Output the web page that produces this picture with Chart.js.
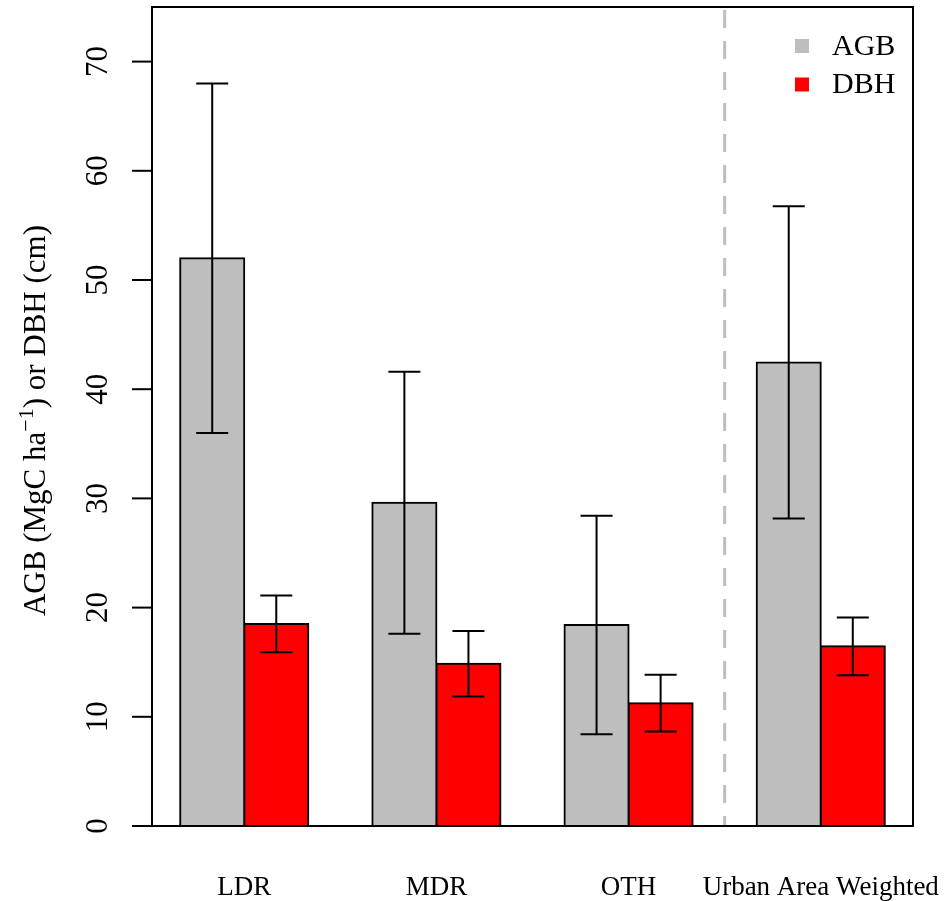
<!DOCTYPE html>
<html>
<head>
<meta charset="utf-8">
<script src="https://cdn.jsdelivr.net/npm/chart.js@4"></script>
<style>
  html, body { margin: 0; padding: 0; background: #fff; }
  #wrap { width: 951px; height: 901px; }
</style>
</head>
<body>
<div id="wrap"><canvas id="chart" width="951" height="901"></canvas></div>
<script>
const categories = ['LDR', 'MDR', 'OTH', 'Urban Area Weighted'];
const groupCenters = [2, 5, 8, 11];
const agbMean = [52.0, 29.6, 18.4, 42.45];
const agbErr = [16.0, 12.0, 10.0, 14.3];
const dbhMean = [18.5, 14.85, 11.25, 16.45];
const dbhErr = [2.6, 3.0, 2.6, 2.65];
const yTicks = [0, 10, 20, 30, 40, 50, 60, 70];
const dividerAt = 9.5;

const SERIF = '"Liberation Serif", "Times New Roman", serif';

// error bars drawn from the y scale, centred on each bar
const errorBars = {
  id: 'errorBars',
  afterDatasetsDraw(chart) {
    const { ctx, scales: { y } } = chart;
    ctx.save();
    ctx.strokeStyle = '#000';
    ctx.lineWidth = 2;
    chart.data.datasets.forEach((ds, d) => {
      chart.getDatasetMeta(d).data.forEach((bar, i) => {
        const v = ds.data[i].y, e = ds.errors[i];
        const top = y.getPixelForValue(v + e), bot = y.getPixelForValue(v - e);
        const cap = bar.width / 4;
        ctx.beginPath();
        ctx.moveTo(bar.x, top); ctx.lineTo(bar.x, bot);
        ctx.moveTo(bar.x - cap, top); ctx.lineTo(bar.x + cap, top);
        ctx.moveTo(bar.x - cap, bot); ctx.lineTo(bar.x + cap, bot);
        ctx.stroke();
      });
    });
    ctx.restore();
  }
};

// base-R style frame: box, rotated y labels, category names, divider, legend
const rFrame = {
  id: 'rFrame',
  beforeDatasetsDraw(chart) {
    const { ctx, chartArea: a, scales: { x } } = chart;
    const px = x.getPixelForValue(dividerAt);
    ctx.save();
    ctx.strokeStyle = '#BEBEBE';
    ctx.lineWidth = 3;
    ctx.setLineDash([18, 13]);
    ctx.beginPath();
    ctx.moveTo(px, a.top + 3);
    ctx.lineTo(px, a.bottom);
    ctx.stroke();
    ctx.restore();
  },
  afterDraw(chart) {
    const { ctx, chartArea: a, scales: { x, y } } = chart;
    ctx.save();
    ctx.strokeStyle = '#000';
    ctx.fillStyle = '#000';
    ctx.lineWidth = 2;
    ctx.strokeRect(a.left, a.top, a.right - a.left, a.bottom - a.top);

    // y ticks
    ctx.font = `31px ${SERIF}`;
    ctx.textAlign = 'center';
    ctx.textBaseline = 'alphabetic';
    y.ticks.forEach(t => {
      const py = y.getPixelForValue(t.value);
      ctx.beginPath();
      ctx.moveTo(a.left - 20, py);
      ctx.lineTo(a.left, py);
      ctx.stroke();
      ctx.save();
      ctx.translate(a.left - 45, py);
      ctx.rotate(-Math.PI / 2);
      ctx.fillText(String(t.value), 0, 0);
      ctx.restore();
    });

    // category names
    ctx.font = `27px ${SERIF}`;
    x.ticks.forEach((t, i) => {
      ctx.fillText(categories[i], x.getPixelForValue(t.value), a.bottom + 69);
    });

    // y title with superscript
    const p1 = 'AGB (MgC ha', sup = '\u22121', p2 = ') or DBH (cm)';
    const big = `31px ${SERIF}`, small = `22px ${SERIF}`;
    ctx.font = big;
    const w1 = ctx.measureText(p1).width, w3 = ctx.measureText(p2).width;
    ctx.font = small;
    const w2 = ctx.measureText(sup).width;
    const total = w1 + w2 + w3;
    ctx.save();
    ctx.translate(45, (a.top + a.bottom) / 2 + 4);
    ctx.rotate(-Math.PI / 2);
    ctx.textAlign = 'left';
    let cx = -total / 2;
    ctx.font = big; ctx.fillText(p1, cx, 0); cx += w1;
    ctx.font = small; ctx.fillText(sup, cx, -12); cx += w2;
    ctx.font = big; ctx.fillText(p2, cx, 0);
    ctx.restore();

    // legend
    ctx.font = `30px ${SERIF}`;
    ctx.textAlign = 'left';
    ctx.textBaseline = 'middle';
    chart.data.datasets.forEach((ds, i) => {
      const cy = 46 + i * 38.5;
      ctx.fillStyle = ds.backgroundColor;
      ctx.fillRect(a.right - 118, cy - 7, 14, 14);
      ctx.fillStyle = '#000';
      ctx.fillText(ds.label, a.right - 81, cy + 1);
    });
    ctx.restore();
  }
};

const barStyle = {
  borderColor: '#000',
  borderWidth: 2,
  inflateAmount: 1,
  borderSkipped: false,
  categoryPercentage: 2 / 3,
  barPercentage: 1,
};

new Chart(document.getElementById('chart'), {
  type: 'bar',
  data: {
    datasets: [
      {
        label: 'AGB',
        data: groupCenters.map((c, i) => ({ x: c, y: agbMean[i] })),
        errors: agbErr,
        backgroundColor: '#BEBEBE',
        ...barStyle,
      },
      {
        label: 'DBH',
        data: groupCenters.map((c, i) => ({ x: c, y: dbhMean[i] })),
        errors: dbhErr,
        backgroundColor: '#FF0000',
        ...barStyle,
      },
    ],
  },
  options: {
    responsive: false,
    animation: false,
    layout: { padding: { left: 152, right: 38, top: 7, bottom: 75 } },
    plugins: { legend: { display: false }, tooltip: { enabled: false } },
    scales: {
      x: {
        type: 'linear',
        min: 0.56,
        max: 12.44,
        offset: false,
        display: false,
        afterBuildTicks: s => { s.ticks = groupCenters.map(v => ({ value: v })); },
      },
      y: {
        min: 0,
        max: 75,
        display: false,
        afterBuildTicks: s => { s.ticks = yTicks.map(v => ({ value: v })); },
      },
    },
  },
  plugins: [errorBars, rFrame],
});
</script>
</body>
</html>
